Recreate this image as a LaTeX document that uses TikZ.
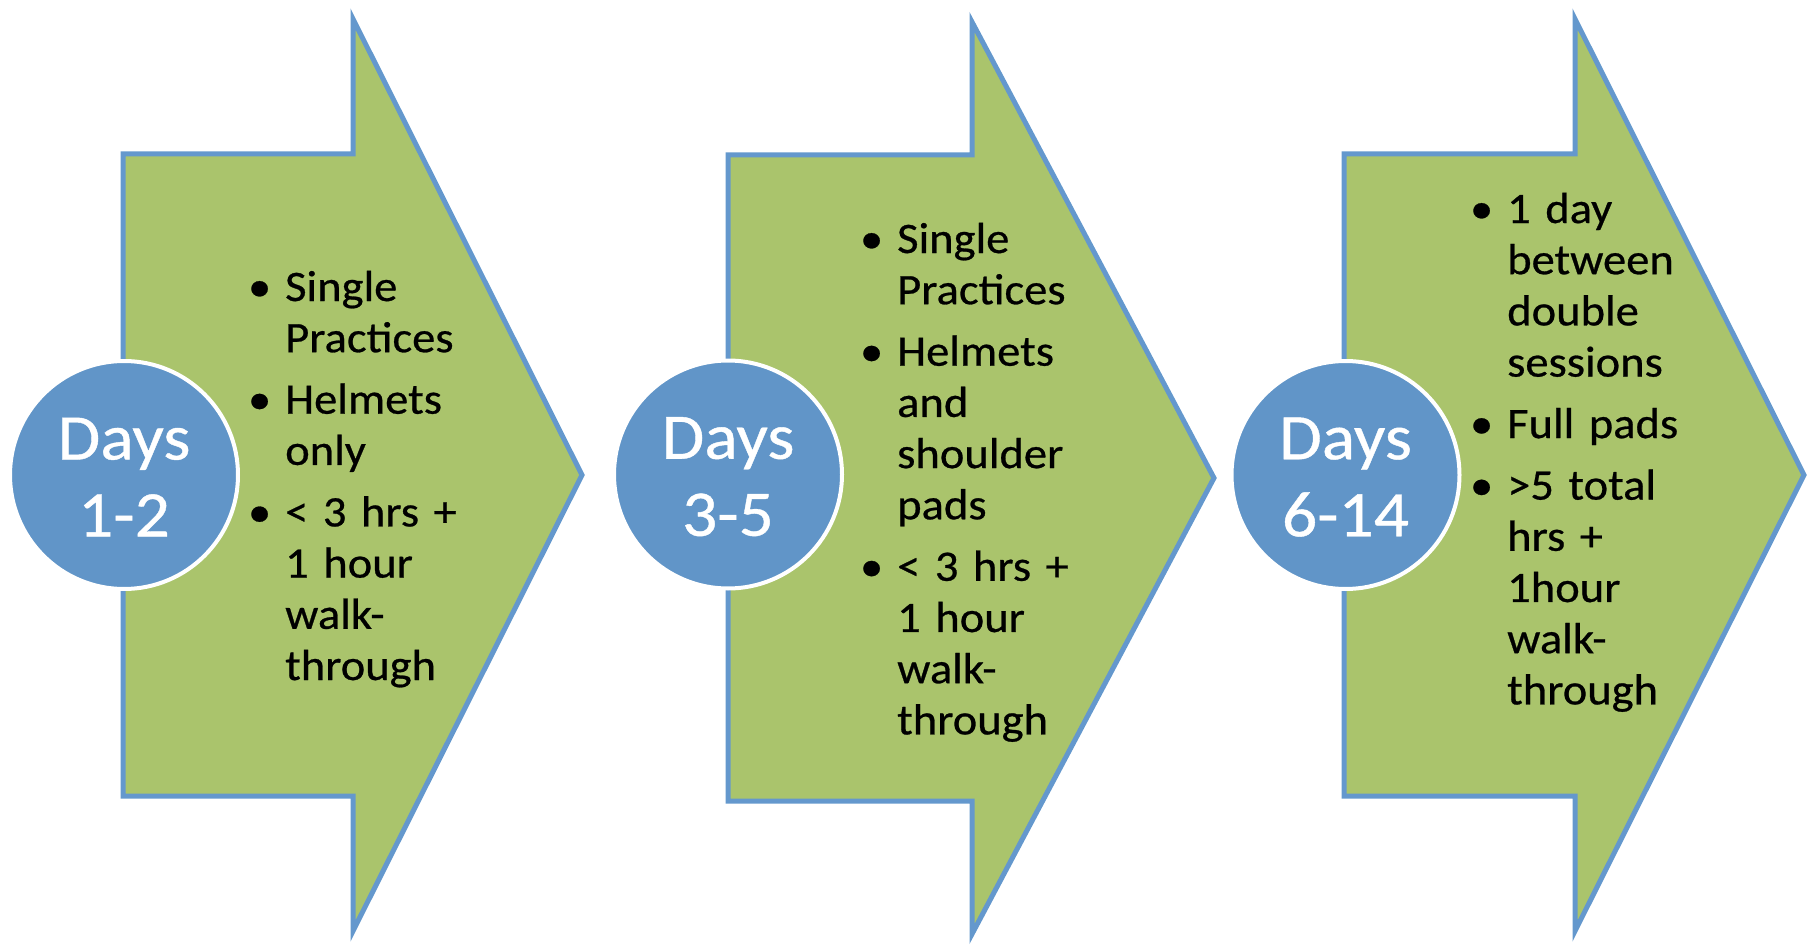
\documentclass[tikz,border=0pt]{standalone}
\usepackage{fontspec}
\setmainfont{Carlito}
\newfontfamily\listfont[FakeStretch=1.07,FakeBold=0.6]{Carlito}
\usepackage{xcolor}
\usepackage{tikz}

\definecolor{padgreen}{RGB}{170,196,108}
\definecolor{edgeblue}{RGB}{100,152,205}
\definecolor{dayblue}{RGB}{97,149,200}
\newcommand{\bul}{\leavevmode\llap{\textbullet\hspace{14pt}}}

\begin{document}
\begin{tikzpicture}[
    x=1pt, y=-1pt,
    chevron/.style={
        fill=padgreen,
        draw=edgeblue,
        line width=5pt,
        line join=miter
    },
    days/.style={
        circle,
        fill=dayblue,
        draw=white,
        line width=4pt,
        minimum size=228pt,
        inner sep=0pt,
        text=white,
        text height=123pt,
        align=center,
        font=\listfont\fontsize{65}{77}\selectfont
    },
    bullets/.style={
        anchor=base west,
        text width=230pt,
        align=left,
        inner sep=0pt,
        font=\listfont\fontsize{43.5}{51.2}\selectfont
    }
]
\useasboundingbox (0,0) rectangle (1813,947);

% Arrows
\draw[chevron] (123,154) -- (353,154) -- (353,19) -- (582,475) -- (353,931) -- (353,796) -- (123,796) -- cycle;
\draw[chevron] (728,155) -- (972,155) -- (972,22) -- (1214,478) -- (972,934) -- (972,801) -- (728,801) -- cycle;
\draw[chevron] (1344,154) -- (1575,154) -- (1575,19) -- (1804,475) -- (1575,931) -- (1575,796) -- (1344,796) -- cycle;

% Nodes
\node[days] (stage1) at (124,475) {Days\\1-2};
\node[days] (stage2) at (728,474.5) {Days\\3-5};
\node[days] (stage3) at (1345.5,475) {Days\\6-14};

\node[bullets] (list1) at (285,301) {\bul Single\\ Practices\\[10.3pt]
    \bul Helmets\\ only\\[10.3pt]
    \bul < 3 hrs +\\ 1 hour\\ walk-\\ through};
\node[bullets] (list2) at (897,253) {\bul Single\\ Practices\\[10.3pt]
    \bul Helmets\\ and\\ shoulder\\ pads\\[10.3pt]
    \bul < 3 hrs +\\ 1 hour\\ walk-\\ through};
\node[bullets] (list3) at (1507,223) {\bul 1 day\\ between\\ double\\ sessions\\[10.3pt]
    \bul Full pads\\[10.3pt]
    \bul >5 total\\ hrs +\\ 1hour\\ walk-\\ through};
\end{tikzpicture}
\end{document}
